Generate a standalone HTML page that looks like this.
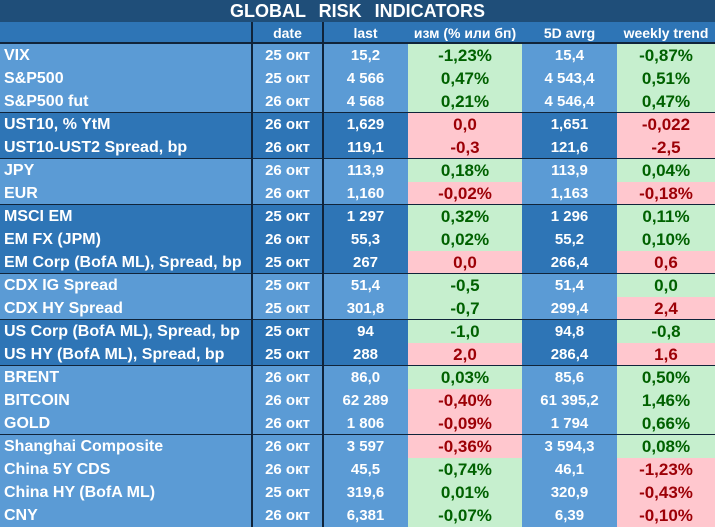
<!DOCTYPE html>
<html><head><meta charset="utf-8">
<style>
html,body{margin:0;padding:0;width:715px;height:527px;overflow:hidden;background:#5b9bd5;}
body{font-family:"Liberation Sans","Noto Sans CJK SC",sans-serif;font-weight:bold;position:relative;}
#title{position:absolute;left:0;top:0;width:715px;height:22px;background:#1f4e79;color:#fff;font-size:18px;line-height:23px;text-align:center;word-spacing:8px;}
#hdr{position:absolute;left:0;top:22px;width:715px;height:22px;background:#2e75b6;border-bottom:2px solid #10243a;box-sizing:border-box;}
.c{position:absolute;top:0;height:100%;color:#fff;font-size:14px;text-align:center;white-space:nowrap;}
.row{position:absolute;left:0;width:715px;height:23px;}
.cell{position:absolute;top:0;height:23px;line-height:23px;font-size:15px;color:#fff;text-align:center;white-space:nowrap;box-sizing:border-box;}
.name{text-align:left;padding-left:4px;font-size:16px;}
.g{background:#c6efce;color:#006100;font-size:17px;}
.r{background:#ffc7ce;color:#9c0006;font-size:17px;}
.sep{position:absolute;left:0;width:715px;height:2px;background:#10243a;}
.vl{position:absolute;top:22px;width:2px;height:505px;background:#10243a;}
</style></head><body>
<div id="title">GLOBAL RISK INDICATORS</div>
<div id="hdr">
<div class="c" style="left:252px;width:71px;line-height:22px">date</div>
<div class="c" style="left:323px;width:85px;line-height:22px">last</div>
<div class="c" style="left:408px;width:114px;line-height:22px">изм (% или бп)</div>
<div class="c" style="left:522px;width:95px;line-height:22px">5D avrg</div>
<div class="c" style="left:617px;width:98px;line-height:22px">weekly trend</div>
</div>
<div id="rows"></div>
<script>
const names=["VIX","S&P500","S&P500 fut","UST10, % YtM","UST10-UST2 Spread, bp","JPY","EUR","MSCI EM","EM FX (JPM)","EM Corp (BofA ML), Spread, bp","CDX IG Spread","CDX HY Spread","US Corp (BofA ML), Spread, bp","US HY (BofA ML), Spread, bp","BRENT","BITCOIN","GOLD","Shanghai Composite","China 5Y CDS","China HY (BofA ML)","CNY"];
const dates=["25 окт","25 окт","26 окт","26 окт","26 окт","26 окт","26 окт","25 окт","26 окт","25 окт","25 окт","25 окт","25 окт","25 окт","26 окт","26 окт","26 окт","26 окт","26 окт","25 окт","26 окт"];
const lasts=["15,2","4 566","4 568","1,629","119,1","113,9","1,160","1 297","55,3","267","51,4","301,8","94","288","86,0","62 289","1 806","3 597","45,5","319,6","6,381"];
const changes=["-1,23%","0,47%","0,21%","0,0","-0,3","0,18%","-0,02%","0,32%","0,02%","0,0","-0,5","-0,7","-1,0","2,0","0,03%","-0,40%","-0,09%","-0,36%","-0,74%","0,01%","-0,07%"];
const changeGood=[1,1,1,0,0,1,0,1,1,0,1,1,1,0,1,0,0,0,1,1,1];
const avgs=["15,4","4 543,4","4 546,4","1,651","121,6","113,9","1,163","1 296","55,2","266,4","51,4","299,4","94,8","286,4","85,6","61 395,2","1 794","3 594,3","46,1","320,9","6,39"];
const trends=["-0,87%","0,51%","0,47%","-0,022","-2,5","0,04%","-0,18%","0,11%","0,10%","0,6","0,0","2,4","-0,8","1,6","0,50%","1,46%","0,66%","0,08%","-1,23%","-0,43%","-0,10%"];
const trendGood=[1,1,1,0,0,1,0,1,1,0,1,0,1,0,1,1,1,1,0,0,0];
const groupSizes=[3,2,2,3,2,2,3,4];
const groupDark=[0,1,0,1,0,1,0,0];
const cont=document.getElementById('rows');
const cols=[[0,252],[252,71],[323,85],[408,114],[522,95],[617,98]];
let i=0,y=44;
groupSizes.forEach((n,gi)=>{
  const bg=groupDark[gi]?'#2e75b6':'#5b9bd5';
  if(gi>0){const s=document.createElement('div');s.className='sep';s.style.top=(y-1)+'px';
  
  
  cont.appendChild(s);}
  for(let k=0;k<n;k++,i++){
    const r=document.createElement('div');r.className='row';r.style.top=y+'px';r.style.background=bg;
    
    
    const vals=[names[i],dates[i],lasts[i],changes[i],avgs[i],trends[i]];
    const nm=['name-cell','date-cell','last-cell','change-cell','avg-cell','trend-cell'];
    vals.forEach((v,c)=>{
      const d=document.createElement('div');d.className='cell'+(c==0?' name':'');
      if(c==3)d.className+=changeGood[i]?' g':' r';
      if(c==5)d.className+=trendGood[i]?' g':' r';
      d.style.left=cols[c][0]+'px';d.style.width=cols[c][1]+'px';
      d.textContent=v;
      
      
      r.appendChild(d);
    });
    cont.appendChild(r);y+=23;
  }
});
[251,322].forEach(x=>{const v=document.createElement('div');v.className='vl';v.style.left=x+'px';


cont.appendChild(v);});
</script>
</body></html>
